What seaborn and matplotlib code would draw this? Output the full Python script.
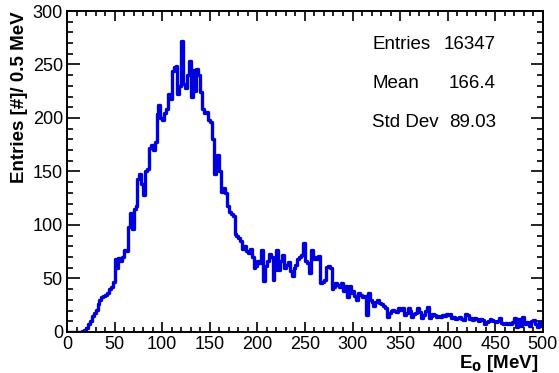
import numpy as np
import pandas as pd
import matplotlib
matplotlib.use('Agg')
import matplotlib.pyplot as plt
from matplotlib.ticker import MultipleLocator
import seaborn as sns

# bin edges 0..500 MeV, 2 MeV wide, counts
edges = np.arange(0, 502, 2)
counts = [
    0, 0, 0, 0, 0, 0, 0, 0, 1, 2,
    4, 7, 10, 15, 18, 21, 26, 30, 33, 34,
    35, 36, 40, 42, 47, 68, 60, 69, 66, 70,
    77, 76, 98, 111, 96, 115, 118, 143, 148, 138,
    128, 150, 152, 172, 175, 170, 178, 204, 212, 200,
    198, 205, 208, 222, 218, 244, 248, 249, 222, 230,
    272, 232, 228, 240, 253, 220, 245, 225, 246, 240,
    224, 208, 205, 206, 198, 196, 180, 148, 162, 165,
    150, 131, 135, 130, 118, 112, 110, 108, 92, 90,
    88, 85, 78, 80, 76, 74, 78, 70, 60, 62,
    66, 64, 77, 48, 62, 66, 73, 70, 49, 58,
    77, 58, 66, 72, 60, 63, 65, 57, 52, 60,
    63, 68, 70, 72, 83, 66, 64, 55, 77, 68,
    70, 68, 71, 46, 47, 49, 61, 62, 60, 40,
    42, 46, 44, 42, 46, 38, 43, 33, 43, 36,
    38, 34, 30, 36, 35, 33, 34, 16, 36, 30,
    28, 24, 28, 30, 27, 26, 24, 22, 14, 18,
    20, 21, 20, 19, 22, 21, 22, 16, 18, 22,
    20, 14, 17, 18, 22, 19, 13, 16, 20, 23,
    13, 15, 17, 16, 14, 15, 14, 16, 15, 17,
    16, 17, 13, 14, 12, 13, 14, 12, 11, 17,
    16, 12, 13, 11, 13, 12, 10, 12, 11, 7,
    9, 10, 12, 11, 10, 9, 10, 13, 8, 7,
    8, 7, 8, 7, 9, 13, 5, 12, 6, 14,
    7, 9, 8, 6, 10, 11, 7, 5, 9, 6,
]
stat_names = ['Entries', 'Mean', 'Std Dev']
stat_values = ['16347', '166.4', '89.03']

df = pd.DataFrame({'E0': (edges[:-1] + edges[1:]) / 2, 'n': counts})

sns.set_style('ticks')
plt.rcParams['font.family'] = ['Liberation Sans', 'DejaVu Sans']
plt.rcParams['text.color'] = 'black'
plt.rcParams['axes.labelcolor'] = 'black'
plt.rcParams['xtick.color'] = 'black'
plt.rcParams['ytick.color'] = 'black'

fig = plt.figure(figsize=(5.59, 3.73), dpi=100)
ax = fig.add_axes([0.12, 0.11, 0.851, 0.8605])

sns.histplot(data=df, x='E0', weights='n', binwidth=2, binrange=(0, 500),
             element='step', fill=False, color='#0000dd', linewidth=2.4, ax=ax)

ax.set_xlim(0, 500)
ax.set_ylim(0, 300)
ax.xaxis.set_major_locator(MultipleLocator(50))
ax.xaxis.set_minor_locator(MultipleLocator(10))
ax.yaxis.set_major_locator(MultipleLocator(50))
ax.yaxis.set_minor_locator(MultipleLocator(10))
ax.tick_params(axis='both', which='both', direction='in', top=True, right=True,
               labelsize=13, width=1.2, color='black')
ax.tick_params(axis='y', which='major', length=9, pad=3)
ax.tick_params(axis='y', which='minor', length=4.5)
ax.tick_params(axis='x', which='major', length=7.5, pad=3)
ax.tick_params(axis='x', which='minor', length=3.8)
for s in ax.spines.values():
    s.set_linewidth(1.4)
    s.set_color('black')

ax.set_xlabel('E$_\\mathbf{0}$ [MeV]', fontsize=13.5, fontweight='bold', loc='right')
ax.xaxis.set_label_coords(0.992, -0.064)
ax.set_ylabel('Entries [#]/ 0.5 MeV', fontsize=13.5, fontweight='bold', loc='top', labelpad=3)

# stats box (no border)
for i, (nm, val) in enumerate(zip(stat_names, stat_values)):
    y = 0.897 - i * 0.122
    ax.text(0.641, y, nm, transform=ax.transAxes, fontsize=13.5, va='center', ha='left')
    ax.text(0.901, y, val, transform=ax.transAxes, fontsize=13.5, va='center', ha='right')

fig.savefig('out.png', dpi=100)
